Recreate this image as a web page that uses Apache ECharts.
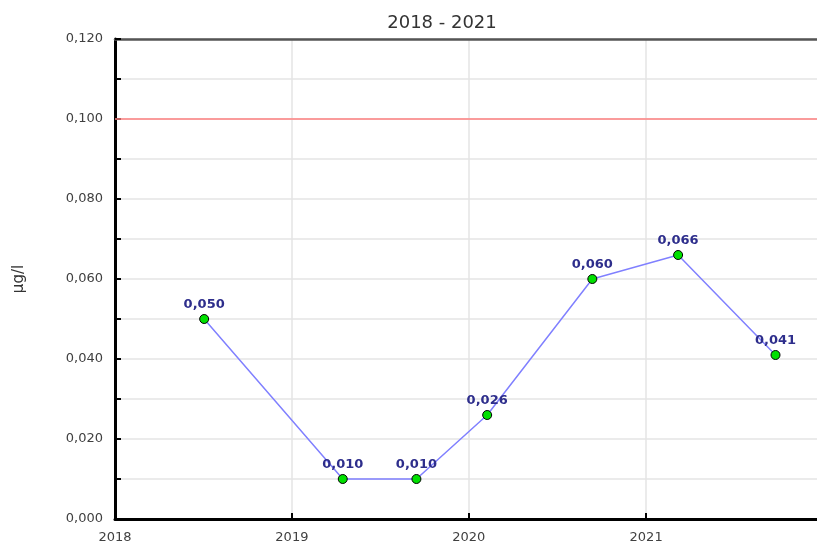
<!DOCTYPE html>
<html>
<head>
<meta charset="utf-8">
<script src="https://cdn.jsdelivr.net/npm/echarts@6/dist/echarts.min.js"></script>
<style>
  html, body { margin: 0; padding: 0; background: #fff; overflow: hidden; }
  #chart { width: 817px; height: 546px; }
</style>
</head>
<body>
<div id="chart"></div>
<script>
// sample dates and measured values (µg/l)
const sampleDates = ['2018-07-04', '2019-04-16', '2019-09-15', '2020-02-08', '2020-09-12', '2021-03-08', '2021-09-25'];
const sampleValues = [0.050, 0.010, 0.010, 0.026, 0.060, 0.066, 0.041];
const limitValue = 0.100;
const yearTicks = ['2018', '2019', '2020', '2021'];

const toComma = (v, digits = 3) => v.toFixed(digits).replace('.', ',');

const chart = echarts.init(document.getElementById('chart'));

const option = {
  animation: false,
  textStyle: { fontFamily: 'DejaVu Sans, sans-serif' },
  title: {
    text: '2018 - 2021',
    left: 437,
    top: 9,
    textAlign: 'center',
    textStyle: { fontSize: 18, fontWeight: 'normal', color: '#333', fontFamily: 'DejaVu Sans' },
  },
  grid: {
    left: 115,
    top: 39,
    bottom: 27,
    width: 708,
    outerBoundsMode: 'none',
  },
  xAxis: [
    {
      type: 'time',
      min: '2018-01-01',
      max: '2022-01-01',
      splitNumber: 4,
      minInterval: 365 * 24 * 3600 * 1000,
      axisLine: { lineStyle: { color: '#000', width: 3 } },
      axisTick: { inside: true, length: 6, lineStyle: { color: '#000', width: 2 } },
      axisLabel: {
        color: '#404040',
        fontSize: 13,
        margin: 12,
        formatter: (val) => {
          const d = new Date(val);
          const y = String(d.getFullYear());
          return yearTicks.includes(y) && d.getMonth() === 0 ? y : '';
        },
      },
      splitLine: { show: true, lineStyle: { color: '#e4e4e4', width: 1.5 } },
    },
    {
      // top frame line
      type: 'value',
      position: 'top',
      axisLine: { show: true, lineStyle: { color: '#555', width: 2.5 } },
      axisTick: { show: false },
      axisLabel: { show: false },
      splitLine: { show: false },
    },
  ],
  yAxis: {
    type: 'value',
    min: 0,
    max: 0.12,
    interval: 0.01,
    name: 'µg/l',
    nameLocation: 'middle',
    nameGap: 88,
    nameRotate: 90,
    nameTextStyle: { color: '#333', fontSize: 15 },
    axisLine: { show: true, lineStyle: { color: '#000', width: 3 } },
    axisTick: { show: true, inside: true, length: 6, lineStyle: { color: '#000', width: 2 } },
    axisLabel: {
      color: '#404040',
      fontSize: 13,
      margin: 12,
      formatter: (v) => (Math.round(v * 1000) % 20 === 0 ? toComma(v) : ''),
    },
    splitLine: { show: true, lineStyle: { color: '#e4e4e4', width: 1.5 } },
  },
  series: [
    {
      type: 'line',
      xAxisIndex: 0,
      data: sampleDates.map((d, i) => [d, sampleValues[i]]),
      lineStyle: { color: '#8080ff', width: 1.5 },
      symbol: 'circle',
      symbolSize: 9,
      itemStyle: { color: '#00e000', borderColor: '#000', borderWidth: 1 },
      label: {
        show: true,
        position: 'top',
        distance: 3,
        color: '#2e2e8c',
        fontSize: 13,
        fontWeight: 'bold',
        formatter: (p) => toComma(p.value[1]),
      },
      markLine: {
        silent: true,
        symbol: 'none',
        label: { show: false },
        lineStyle: { color: '#ff8080', width: 1.5, type: 'solid' },
        data: [{ yAxis: limitValue }],
      },
      z: 5,
    },
  ],
};

chart.setOption(option);
</script>
</body>
</html>
